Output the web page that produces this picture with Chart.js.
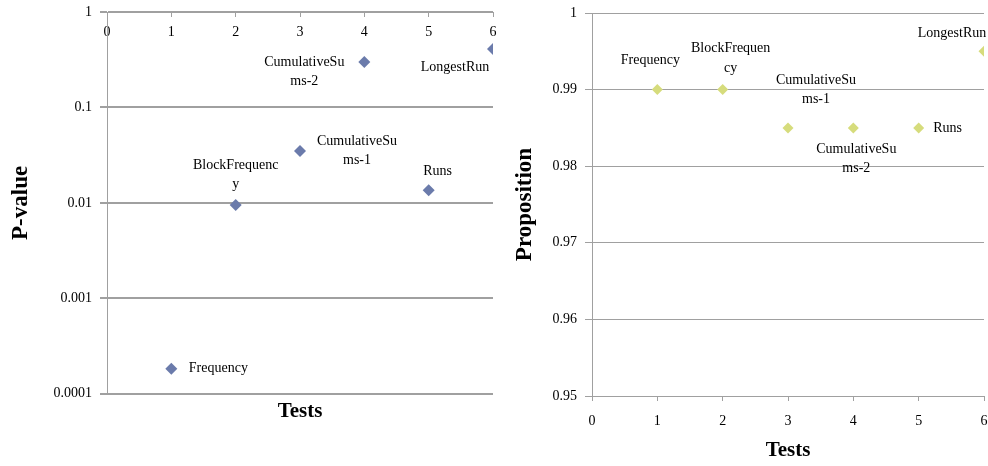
<!DOCTYPE html>
<html>
<head>
<meta charset="utf-8">
<script src="https://cdn.jsdelivr.net/npm/chart.js@4.4.1/dist/chart.umd.min.js"></script>
<style>
  body { margin: 0; background: #fff; }
  canvas { position: absolute; top: 0; }
  #pvalChart { left: 0; }
  #propChart { left: 500px; }
</style>
</head>
<body>
<canvas id="pvalChart" width="498" height="466"></canvas>
<canvas id="propChart" width="488" height="466"></canvas>
<script>
const tests = ['Frequency', 'BlockFrequency', 'CumulativeSums-1', 'CumulativeSums-2', 'Runs', 'LongestRun'];
const testNo = [1, 2, 3, 4, 5, 6];
const pValues = [0.000183, 0.0095, 0.035, 0.30, 0.0136, 0.41];
const proportions = [0.99, 0.99, 0.985, 0.985, 0.985, 0.995];
const xTicks = [0, 1, 2, 3, 4, 5, 6];
const pTicks = [0.0001, 0.001, 0.01, 0.1, 1];
const propTicks = [0.95, 0.96, 0.97, 0.98, 0.99, 1];

// where each label sits: offset of its first line's centre from the point
const pLabelPos = [[47, 0], [0, -40], [57, -10], [-60, 0], [9, -19], [-38, 18]];
const propLabelPos = [[-7, -29], [8, -41], [28, -48], [3, 21], [29, 0], [-32, -18]];

const serif = '"Liberation Serif", "Times New Roman", serif';
const gridGrey = '#a0a0a0';
Chart.defaults.font.family = serif;
Chart.defaults.color = '#000';

function wrapText(ctx, text, maxW) {
  const lines = [];
  let cur = '';
  for (const ch of text) {
    if (cur && ctx.measureText(cur + ch).width > maxW) {
      lines.push(cur);
      cur = ch;
    } else {
      cur += ch;
    }
  }
  lines.push(cur);
  return lines;
}

const pointLabels = {
  id: 'pointLabels',
  afterDatasetsDraw(chart, args, opts) {
    const ctx = chart.ctx;
    const pts = chart.getDatasetMeta(0).data;
    ctx.save();
    ctx.font = '14px ' + serif;
    ctx.fillStyle = '#000';
    ctx.textAlign = 'center';
    ctx.textBaseline = 'middle';
    pts.forEach((pt, i) => {
      const lines = wrapText(ctx, tests[i], opts.maxWidth);
      const [dx, dy] = opts.pos[i];
      lines.forEach((l, j) => ctx.fillText(l, pt.x + dx, pt.y + dy + j * 19.5));
    });
    ctx.restore();
  }
};

new Chart(document.getElementById('pvalChart'), {
  type: 'scatter',
  data: {
    datasets: [{
      data: testNo.map((x, i) => ({ x: x, y: pValues[i] })),
      pointStyle: 'rectRot',
      pointRadius: 6,
      backgroundColor: '#6b7bab',
      borderWidth: 0
    }]
  },
  options: {
    responsive: false,
    animation: false,
    layout: { autoPadding: false, padding: { top: 12, right: 5, bottom: 42, left: 0 } },
    plugins: {
      legend: { display: false },
      tooltip: { enabled: false },
      title: {
        display: true, text: 'Tests', position: 'bottom', fullSize: false,
        font: { size: 21, weight: 'bold' }, padding: { top: 5, bottom: 0 }, color: '#000'
      },
      pointLabels: { pos: pLabelPos, maxWidth: 88 }
    },
    scales: {
      x: {
        type: 'linear', position: { y: 1 }, min: 0, max: 6,
        afterBuildTicks: s => { s.ticks = xTicks.map(v => ({ value: v })); },
        afterFit: s => { s.paddingLeft = 0; s.paddingRight = 0; },
        grid: { drawOnChartArea: false, tickLength: 4, color: gridGrey },
        border: { color: gridGrey },
        ticks: { padding: 8, font: { size: 14 } }
      },
      y: {
        type: 'logarithmic', min: 0.0001, max: 1,
        afterBuildTicks: s => { s.ticks = pTicks.map(v => ({ value: v })); },
        afterFit: s => { s.width = 107; s.paddingTop = 0; s.paddingBottom = 0; },
        grid: { color: gridGrey, lineWidth: 2, tickLength: 7 },
        border: { color: gridGrey },
        ticks: { padding: 8, font: { size: 14 }, callback: v => String(v) },
        title: {
          display: true, text: 'P-value',
          font: { size: 23, weight: 'bold' }, padding: { top: 7, bottom: 0 }
        }
      }
    }
  },
  plugins: [pointLabels]
});

new Chart(document.getElementById('propChart'), {
  type: 'scatter',
  data: {
    datasets: [{
      data: testNo.map((x, i) => ({ x: x, y: proportions[i] })),
      pointStyle: 'rectRot',
      pointRadius: 5.5,
      backgroundColor: '#d6dc7c',
      borderWidth: 0
    }]
  },
  options: {
    responsive: false,
    animation: false,
    layout: { autoPadding: false, padding: { top: 13, right: 4, bottom: 0, left: 0 } },
    plugins: {
      legend: { display: false },
      tooltip: { enabled: false },
      pointLabels: { pos: propLabelPos, maxWidth: 82 }
    },
    scales: {
      x: {
        type: 'linear', min: 0, max: 6,
        afterBuildTicks: s => { s.ticks = xTicks.map(v => ({ value: v })); },
        afterFit: s => { s.height = 70; s.paddingLeft = 0; s.paddingRight = 0; },
        grid: { drawOnChartArea: false, tickLength: 5, color: gridGrey },
        border: { color: gridGrey },
        ticks: { padding: 12, font: { size: 14 } },
        title: {
          display: true, text: 'Tests',
          font: { size: 21, weight: 'bold' }, padding: { top: 0, bottom: 3 }
        }
      },
      y: {
        min: 0.95, max: 1,
        afterBuildTicks: s => { s.ticks = propTicks.map(v => ({ value: v })); },
        afterFit: s => { s.width = 92; s.paddingTop = 0; s.paddingBottom = 0; },
        grid: { color: gridGrey, tickLength: 7 },
        border: { color: gridGrey },
        ticks: { padding: 8, font: { size: 14 }, callback: v => String(v) },
        title: {
          display: true, text: 'Proposition',
          font: { size: 23, weight: 'bold' }, padding: { top: 11, bottom: 0 }
        }
      }
    }
  },
  plugins: [pointLabels]
});
</script>
</body>
</html>
